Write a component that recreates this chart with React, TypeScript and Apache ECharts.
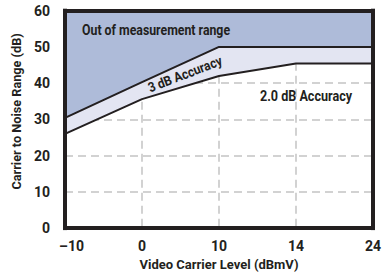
import React, { useEffect, useRef } from "react";
import * as echarts from "echarts";

const xLabels = ["–10", "0", "10", "14", "24"];
const lowerBoundary = [26, 35.6, 42, 45.4, 45.4];
const upperBoundary = [30.4, 40.3, 50, 50, 50];
const yMin = 0;
const yMax = 60;
const yInterval = 10;

const FONT = "Roboto, 'Liberation Sans', sans-serif";
const INK = "#231f20";
const BLUE = "#aebbd9";
const LAVENDER = "#e3e5f2";
const GRIDLINE = "#d2d2d2";

export default function App() {
  const ref = useRef<HTMLDivElement>(null);
  useEffect(() => {
    if (!ref.current) return;
    const chart = echarts.init(ref.current, undefined, { renderer: "svg" });
    const frameLine = { show: true, onZero: false, lineStyle: { color: INK, width: 4, cap: "square" } };
    const grid = { left: 65, right: 16, top: 10.7, bottom: 47.3, containLabel: false };
    chart.setOption({
      animation: false,
      backgroundColor: "#ffffff",
      grid,
      xAxis: [
        {
          type: "category",
          data: xLabels,
          boundaryGap: false,
          position: "bottom",
          axisLine: { show: false },
          axisTick: { show: false },
          axisLabel: {
            interval: 0,
            margin: 11,
            fontFamily: FONT,
            fontWeight: "bold",
            fontSize: 14,
            color: INK,
            formatter: (v: string, i: number) => (i === 0 ? "{neg|" + v + "}" : v),
            rich: { neg: { padding: [0, 0, 0, 13], fontFamily: FONT, fontWeight: "bold", fontSize: 14, color: INK } },
          },
          splitLine: { show: true, interval: 0, lineStyle: { color: GRIDLINE, width: 2, type: [8, 5] } },
          name: "Video Carrier Level (dBmV)",
          nameLocation: "middle",
          nameGap: 28,
          nameTextStyle: { fontFamily: FONT, fontWeight: "bold", fontSize: 13, color: INK },
        },
        {
          type: "category",
          data: xLabels,
          boundaryGap: false,
          position: "bottom",
          z: 10,
          axisLine: frameLine,
          axisTick: { show: false },
          axisLabel: { show: false },
          splitLine: { show: false },
        },
        {
          type: "category",
          data: xLabels,
          boundaryGap: false,
          position: "top",
          z: 10,
          axisLine: frameLine,
          axisTick: { show: false },
          axisLabel: { show: false },
          splitLine: { show: false },
        },
      ],
      yAxis: [
        {
          type: "value",
          min: yMin,
          max: yMax,
          interval: yInterval,
          position: "left",
          axisLine: { show: false },
          axisTick: { show: false },
          axisLabel: { margin: 15, fontFamily: FONT, fontWeight: "bold", fontSize: 14, color: INK },
          splitLine: { show: true, lineStyle: { color: GRIDLINE, width: 2, type: [8, 5] } },
          name: "Carrier to Noise Range (dB)",
          nameLocation: "middle",
          nameGap: 38,
          nameRotate: 90,
          nameTextStyle: { fontFamily: FONT, fontWeight: "bold", fontSize: 12.7, color: INK, padding: [0, 0, 0, 16] },
        },
        {
          type: "value",
          min: yMin,
          max: yMax,
          interval: yInterval,
          position: "left",
          z: 10,
          axisLine: frameLine,
          axisTick: { show: false },
          axisLabel: { show: false },
          splitLine: { show: false },
        },
        {
          type: "value",
          min: yMin,
          max: yMax,
          interval: yInterval,
          position: "right",
          z: 10,
          axisLine: frameLine,
          axisTick: { show: false },
          axisLabel: { show: false },
          splitLine: { show: false },
        },
      ],
      series: [
        {
          type: "line",
          name: "2.0 dB boundary",
          data: lowerBoundary,
          symbol: "none",
          lineStyle: { color: INK, width: 2 },
          areaStyle: { color: LAVENDER, opacity: 1, origin: "end" },
          z: 2,
        },
        {
          type: "line",
          name: "3 dB boundary",
          data: upperBoundary,
          symbol: "none",
          lineStyle: { color: INK, width: 2 },
          areaStyle: { color: BLUE, opacity: 1, origin: "end" },
          z: 3,
        },
      ],
      graphic: [
        {
          type: "text",
          x: 82,
          y: 30,
          scaleX: 0.88,
          z: 20,
          style: {
            text: "Out of measurement range",
            fontFamily: FONT,
            fontWeight: "bold",
            fontSize: 14,
            fill: INK,
            textAlign: "left",
            textVerticalAlign: "middle",
          },
        },
        {
          type: "text",
          x: 185,
          y: 74,
          rotation: (21 * Math.PI) / 180,
          scaleX: 0.9,
          z: 20,
          style: {
            text: "3 dB Accuracy",
            fontFamily: FONT,
            fontWeight: "bold",
            fontSize: 13.5,
            fill: INK,
            textAlign: "center",
            textVerticalAlign: "middle",
          },
        },
        {
          type: "text",
          x: 306,
          y: 96,
          scaleX: 0.9,
          z: 20,
          style: {
            text: "2.0 dB Accuracy",
            fontFamily: FONT,
            fontWeight: "bold",
            fontSize: 14,
            fill: INK,
            textAlign: "center",
            textVerticalAlign: "middle",
          },
        },
      ],
    });
    return () => chart.dispose();
  }, []);
  return (
    <div
      ref={ref}
      style={{ position: "fixed", left: 0, top: 0, width: 389, height: 276, background: "#fff" }}
    />
  );
}
